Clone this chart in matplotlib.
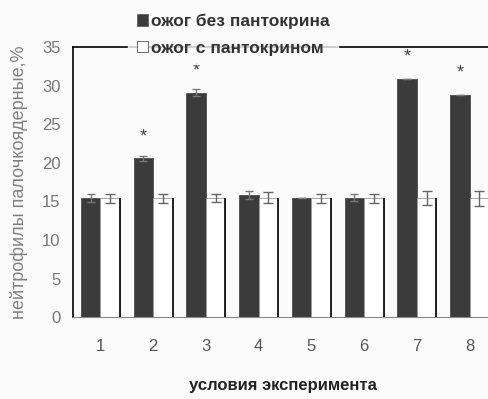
import matplotlib
matplotlib.use("Agg")
import matplotlib.pyplot as plt
import numpy as np

plt.rcParams['font.family'] = ['Liberation Sans', 'DejaVu Sans']

groups = ['1', '2', '3', '4', '5', '6', '7', '8']
burn_no_pant = [15.4, 20.6, 29.1, 15.8, 15.5, 15.5, 30.9, 28.8]
burn_no_pant_err = [0.5, 0.3, 0.5, 0.5, 0.0, 0.5, 0.0, 0.0]
burn_pant = [15.4, 15.4, 15.4, 15.5, 15.4, 15.4, 15.5, 15.4]
burn_pant_err = [0.6, 0.6, 0.5, 0.7, 0.6, 0.6, 0.9, 1.0]
star = [False, True, True, False, False, False, True, True]

fig = plt.figure(figsize=(4.89, 3.99), dpi=100, facecolor='#fbfbfb')
ax = fig.add_axes([0.149, 0.205, 0.86, 0.677])
ax.set_facecolor('#fbfbfb')

x = np.arange(1, len(groups) + 1)
w = 0.37
dark = '#3b3b3b'

ax.bar(x - w / 2, burn_no_pant, w, color=dark, edgecolor=dark, linewidth=0.5,
       yerr=burn_no_pant_err, error_kw=dict(ecolor='#777777', capsize=3, elinewidth=1),
       label='ожог без пантокрина', zorder=2)
ax.bar(x + w / 2, burn_pant, w, color='white', edgecolor='#9a9a9a', linewidth=0.6,
       yerr=burn_pant_err, error_kw=dict(ecolor='#666666', capsize=3.5, elinewidth=1),
       label='ожог с пантокрином', zorder=2)
# dark right edge of the white bars
ax.vlines(x + w, 0, burn_pant, color='#111111', linewidth=1.3, zorder=3)

for xi, v, s in zip(x, burn_no_pant, star):
    if s:
        ax.text(xi - w / 2, v + 2.8, '*', ha='center', va='center', fontsize=13,
                color='#444444')

ax.set_xlim(0.48, 8.45)
ax.set_ylim(0, 35)
ax.set_yticks(range(0, 36, 5))
ax.set_xticks(x)
ax.set_xticklabels(groups)
ax.tick_params(axis='x', length=0, pad=16, labelsize=12, labelcolor='#555555')
ax.tick_params(axis='y', length=0, pad=9, labelsize=12, labelcolor='#777777')

ax.spines['right'].set_visible(False)
ax.spines['top'].set_linewidth(1.2)
ax.spines['left'].set_linewidth(1.2)
ax.spines['bottom'].set_color('#888888')

ax.set_xlabel('условия эксперимента', fontsize=12, fontweight='bold',
              color='#222222', labelpad=17)
ax.set_ylabel('нейтрофилы палочкоядерные,%', fontsize=13, color='#808080',
              labelpad=10)

leg = fig.legend(loc='upper left', bbox_to_anchor=(0.262, 0.988), frameon=True,
                 fontsize=12.5, handlelength=0.65, handleheight=0.65, handletextpad=0.15,
                 labelspacing=0.68, borderpad=0.5, borderaxespad=0)
leg.get_frame().set_facecolor('#fbfbfb')
leg.get_frame().set_edgecolor('#fbfbfb')
for t in leg.get_texts():
    t.set_fontweight('bold')
    t.set_color('#333333')
for h in leg.legend_handles:
    h.set_edgecolor('#555555')
leg.set_zorder(10)

fig.savefig('out.png', dpi=100, facecolor=fig.get_facecolor())
